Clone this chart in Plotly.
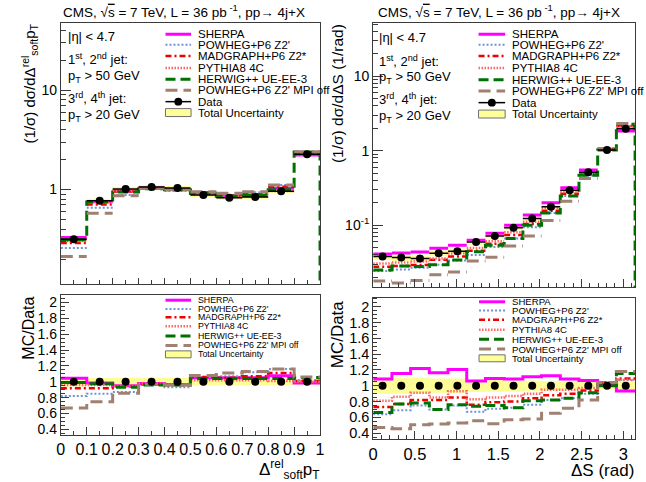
import math
import plotly.graph_objects as go

FIG_W, FIG_H = 646, 482
FONT = "Liberation Sans, Arial, Helvetica, sans-serif"
FRAME = "#3a3a3a"

# ---------------------------------------------------------------
# Delta^rel_soft pT : 10 bins on [0, 1]
# ---------------------------------------------------------------
soft_edges = [0.0, 0.1, 0.2, 0.3, 0.4, 0.5, 0.6, 0.7, 0.8, 0.9, 1.0]
soft_data = [0.316, 0.77, 1.016, 1.06, 1.04, 0.88, 0.826, 0.84, 0.96, 2.26]
soft_unc = [0.06, 0.05, 0.05, 0.05, 0.05, 0.05, 0.045, 0.045, 0.04, 0.035]

soft_ratio_sherpa = [1.045, 0.985, 0.95, 0.98, 0.965, 1.05, 1.05, 1.05, 1.075, 0.985]
soft_ratio_powheg = [0.82, 0.85, 0.87, 0.96, 0.93, 1.06, 1.07, 1.12, 1.16, 1.02]
soft_ratio_madgraph = [0.92, 0.92, 0.94, 0.97, 0.96, 1.06, 1.05, 1.07, 1.11, 1.01]
soft_ratio_pythia = [0.96, 0.96, 0.95, 0.98, 0.97, 1.02, 1.02, 1.02, 1.01, 1.0]
soft_ratio_herwig = [0.99, 0.975, 0.93, 0.96, 0.96, 1.04, 1.04, 1.04, 1.04, 1.055]
soft_ratio_mpioff = [0.67, 0.75, 0.855, 0.97, 0.96, 1.08, 1.11, 1.13, 1.16, 1.06]

# ---------------------------------------------------------------
# Delta S : 14 bins on [0, pi]
# ---------------------------------------------------------------
ds_nbins = 14
ds_edges = [math.pi * i / ds_nbins for i in range(ds_nbins + 1)]
ds_data = [0.0378, 0.0366, 0.0356, 0.0419, 0.0446, 0.0593, 0.0713,
           0.092, 0.123, 0.177, 0.293, 0.514, 1.02, 1.96]
ds_unc = [0.10, 0.10, 0.10, 0.09, 0.09, 0.08, 0.075,
          0.07, 0.065, 0.06, 0.055, 0.05, 0.04, 0.05]

ds_ratio_sherpa = [1.084, 1.155, 1.218, 1.163, 1.205, 1.059, 1.09,
                   1.084, 1.113, 1.126, 1.084, 1.067, 1.017, 0.933]
ds_ratio_powheg = [0.64, 0.69, 0.75, 0.70, 0.75, 0.67, 0.71,
                   0.72, 0.76, 0.82, 0.84, 0.90, 1.04, 1.07]
ds_ratio_madgraph = [0.73, 0.77, 0.82, 0.82, 0.85, 0.76, 0.79,
                     0.80, 0.84, 0.88, 0.90, 0.94, 1.04, 1.09]
ds_ratio_pythia = [0.81, 0.86, 0.91, 0.85, 0.93, 0.83, 0.85,
                   0.87, 0.90, 0.95, 0.95, 0.97, 1.04, 1.08]
ds_ratio_herwig = [0.66, 0.77, 0.78, 0.70, 0.76, 0.74, 0.75,
                   0.72, 0.81, 0.82, 0.84, 0.91, 1.0, 1.155]
ds_ratio_mpioff = [0.47, 0.456, 0.506, 0.514, 0.527, 0.556, 0.52,
                   0.57, 0.58, 0.65, 0.715, 0.82, 1.04, 1.18]

model_names = ["SHERPA", "POWHEG+P6 Z2'", "MADGRAPH+P6 Z2*", "PYTHIA8 4C",
               "HERWIG++ UE-EE-3", "POWHEG+P6 Z2' MPI off"]
legend_labels = model_names + ["Data", "Total Uncertainty"]

model_styles = {
    "SHERPA": dict(color="#ff00ff", width=3, dash="solid"),
    "POWHEG+P6 Z2'": dict(color="#6f93d8", width=2, dash="2px,2px"),
    "MADGRAPH+P6 Z2*": dict(color="#ee0000", width=2.5, dash="6px,3px,2px,3px"),
    "PYTHIA8 4C": dict(color="#ff6464", width=2.5, dash="1.5px,1.5px"),
    "HERWIG++ UE-EE-3": dict(color="#007000", width=3, dash="10px,5px"),
    "POWHEG+P6 Z2' MPI off": dict(color="#a08070", width=3, dash="12px,6px"),
}
BAND_FILL = "#ffff9a"
BAND_HATCH = "#e8dc60"

soft_ratios = dict(zip(model_names, [soft_ratio_sherpa, soft_ratio_powheg,
                                     soft_ratio_madgraph, soft_ratio_pythia,
                                     soft_ratio_herwig, soft_ratio_mpioff]))
ds_ratios = dict(zip(model_names, [ds_ratio_sherpa, ds_ratio_powheg,
                                   ds_ratio_madgraph, ds_ratio_pythia,
                                   ds_ratio_herwig, ds_ratio_mpioff]))


def X(p):
    return p / FIG_W


def Y(p):
    return 1 - p / FIG_H


def centers(edges):
    return [(a + b) / 2 for a, b in zip(edges[:-1], edges[1:])]


def step_line(edges, vals, drop=None):
    xs = list(edges)
    ys = list(vals) + [vals[-1]]
    if drop is not None:
        xs.append(edges[-1])
        ys.append(drop)
    return xs, ys


def segments(edges, vals):
    xs, ys = [], []
    for a, b, v in zip(edges[:-1], edges[1:], vals):
        xs += [a, b, None]
        ys += [v, v, None]
    return xs, ys


def boxes(edges, lo, hi):
    xs, ys = [], []
    for a, b, l, h in zip(edges[:-1], edges[1:], lo, hi):
        xs += [a, b, b, a, a, None]
        ys += [l, l, h, h, l, None]
    return xs, ys


fig = go.Figure()


def add_panels(edges, data, unc, ratios, top_ax, rat_ax):
    tx, ty = top_ax
    rx, ry = rat_ax
    mids = centers(edges)
    half = [(b - a) / 2 for a, b in zip(edges[:-1], edges[1:])]

    # --- upper panel: normalised cross section ---
    bx, by = boxes(edges, [d * (1 - u) for d, u in zip(data, unc)],
                   [d * (1 + u) for d, u in zip(data, unc)])
    fig.add_trace(go.Scatter(x=bx, y=by, xaxis=tx, yaxis=ty, mode="lines",
                             fill="toself", fillcolor=BAND_FILL,
                             fillpattern=dict(shape="x", fgcolor=BAND_HATCH,
                                              bgcolor=BAND_FILL, size=4, solidity=0.15),
                             line=dict(width=0), hoverinfo="skip", showlegend=False))
    for name in model_names:
        st = model_styles[name]
        mc = [r * d for r, d in zip(ratios[name], data)]
        if name == "HERWIG++ UE-EE-3":
            xs, ys = step_line(edges, mc, drop=1e-4)
            shape = "hv"
        else:
            xs, ys = segments(edges, mc)
            shape = "linear"
        fig.add_trace(go.Scatter(x=xs, y=ys, xaxis=tx, yaxis=ty, mode="lines",
                                 line=dict(color=st["color"], width=st["width"],
                                           dash=st["dash"], shape=shape),
                                 name=name, showlegend=False))
    fig.add_trace(go.Scatter(x=mids, y=data, xaxis=tx, yaxis=ty, mode="markers",
                             marker=dict(color="black", size=8),
                             error_x=dict(type="data", array=half, color="black",
                                          thickness=1.5, width=0),
                             error_y=dict(type="data", array=[d * u * 0.4 for d, u in zip(data, unc)],
                                          color="black", thickness=1, width=0),
                             name="Data", showlegend=False))

    # --- lower panel: MC / Data ---
    bx, by = boxes(edges, [1 - u for u in unc], [1 + u for u in unc])
    fig.add_trace(go.Scatter(x=bx, y=by, xaxis=rx, yaxis=ry, mode="lines",
                             fill="toself", fillcolor=BAND_FILL,
                             fillpattern=dict(shape="x", fgcolor=BAND_HATCH,
                                              bgcolor=BAND_FILL, size=4, solidity=0.15),
                             line=dict(width=0), hoverinfo="skip", showlegend=False))
    for name in model_names:
        st = model_styles[name]
        xs, ys = step_line(edges, ratios[name])
        fig.add_trace(go.Scatter(x=xs, y=ys, xaxis=rx, yaxis=ry, mode="lines",
                                 line=dict(color=st["color"], width=st["width"],
                                           dash=st["dash"], shape="hv"),
                                 name=name, showlegend=False))
    fig.add_trace(go.Scatter(x=mids, y=[1.0] * len(mids), xaxis=rx, yaxis=ry,
                             mode="markers", marker=dict(color="black", size=8),
                             name="Data", showlegend=False))


add_panels(soft_edges, soft_data, soft_unc, soft_ratios, ("x", "y"), ("x2", "y2"))
add_panels(ds_edges, ds_data, ds_unc, ds_ratios, ("x3", "y3"), ("x4", "y4"))

# ---------------------------------------------------------------
# axes
# ---------------------------------------------------------------
def lin_axis(**kw):
    base = dict(showline=True, linecolor=FRAME, linewidth=1, mirror=True,
                showgrid=False, zeroline=False, ticks="inside", tickcolor=FRAME,
                ticklen=8, tickwidth=1,
                tickfont=dict(family=FONT, size=14, color="black"))
    base.update(kw)
    return base


def log_minor(decades):
    vals = []
    for dec in decades:
        vals += [k * dec for k in range(2, 10)]
    return vals


top_left_y = lin_axis(type="log", range=[-0.953, 1.68], tickvals=[1, 10],
                      ticktext=["1", "10"], ticklen=10,
                      domain=[Y(285.7), Y(21.7)], anchor="x",
                      minor=dict(ticks="inside", ticklen=5, tickcolor=FRAME,
                                 tickvals=log_minor([0.1, 1, 10])))
top_right_y = lin_axis(type="log", range=[-1.83, 1.72], tickvals=[0.1, 1, 10],
                       ticktext=["10<sup>-1</sup>", "1", "10"], ticklen=10,
                       domain=[Y(288.3), Y(21.7)], anchor="x3",
                       minor=dict(ticks="inside", ticklen=5, tickcolor=FRAME,
                                  tickvals=log_minor([0.01, 0.1, 1, 10])))

fig.update_layout(
    width=FIG_W, height=FIG_H, autosize=False,
    margin=dict(l=0, r=0, t=0, b=0),
    paper_bgcolor="white", plot_bgcolor="white",
    showlegend=False,
    xaxis=lin_axis(domain=[X(56.7), X(320)], range=[0, 1], anchor="y",
                   dtick=0.1, ticklen=6, showticklabels=False,
                   minor=dict(ticks="inside", ticklen=4, dtick=0.05, tickcolor=FRAME)),
    yaxis=top_left_y,
    xaxis2=lin_axis(domain=[X(56.7), X(320)], range=[0, 1], anchor="y2",
                    dtick=0.1, ticklen=8,
                    tickfont=dict(family=FONT, size=16, color="black"),
                    minor=dict(ticks="inside", ticklen=4, dtick=0.05, tickcolor=FRAME)),
    yaxis2=lin_axis(domain=[Y(437.3), Y(296.7)], range=[0.334, 2.09], anchor="x2",
                    dtick=0.2, tick0=0, ticklen=8,
                    minor=dict(ticks="inside", ticklen=4, dtick=0.05, tickcolor=FRAME)),
    xaxis3=lin_axis(domain=[X(374), X(640)], range=[0, math.pi], anchor="y3",
                    dtick=0.5, ticklen=8, showticklabels=False,
                    minor=dict(ticks="inside", ticklen=4, dtick=0.1, tickcolor=FRAME)),
    yaxis3=top_right_y,
    xaxis4=lin_axis(domain=[X(374), X(640)], range=[0, math.pi], anchor="y4",
                    dtick=0.5, ticklen=8,
                    tickfont=dict(family=FONT, size=16.5, color="black"),
                    minor=dict(ticks="inside", ticklen=4, dtick=0.1, tickcolor=FRAME)),
    yaxis4=lin_axis(domain=[Y(441.7), Y(299)], range=[0.325, 2.117], anchor="x4",
                    dtick=0.2, tick0=0, ticklen=8,
                    tickfont=dict(family=FONT, size=14.5, color="black"),
                    minor=dict(ticks="inside", ticklen=4, dtick=0.05, tickcolor=FRAME)),
)

# ---------------------------------------------------------------
# text and legends (paper coordinates in pixels of the 646x482 canvas)
# ---------------------------------------------------------------
annotations = []
shapes = []


def text(px, py, s, size, xanchor="left", yanchor="middle", angle=0):
    annotations.append(dict(x=X(px), y=Y(py), xref="paper", yref="paper",
                            text=s, showarrow=False, xanchor=xanchor,
                            yanchor=yanchor, textangle=angle, borderpad=0,
                            font=dict(family=FONT, size=size, color="black")))


title = ("CMS, \u221a<span style='text-decoration:overline'>s</span> = 7 TeV, "
         "L = 36 pb<sup> -1</sup>, pp\u2192 4j+X")
text(182, 10, title, 13.5, xanchor="center")
text(502, 10, title, 13.5, xanchor="center")

# axis titles
text(25, 22, "(1/\u03c3) d\u03c3/d\u0394<sup>rel</sup><sub>soft</sub>p<sub>T</sub>", 15,
     xanchor="center", yanchor="top", angle=-90)
text(338, 22, "(1/\u03c3) d\u03c3/d\u0394S (1/rad)", 15.5,
     xanchor="center", yanchor="top", angle=-90)
text(23, 297, "MC/Data", 16, xanchor="center", yanchor="top", angle=-90)
text(338, 301, "MC/Data", 17, xanchor="center", yanchor="top", angle=-90)
text(320, 472, "\u0394<sup>rel</sup><sub>soft</sub>p<sub>T</sub>", 17, xanchor="right")
text(640, 473, "\u0394S (rad)", 17, xanchor="right")

# selection text
selection = ["|\u03b7| &lt; 4.7",
             "1<sup>st</sup>, 2<sup>nd</sup> jet:",
             "p<sub>T</sub> &gt; 50 GeV",
             "3<sup>rd</sup>, 4<sup>th</sup> jet:",
             "p<sub>T</sub> &gt; 20 GeV"]
for s, yl, yr in zip(selection, [36, 58.5, 76, 97.5, 115], [37, 60, 77, 98.5, 116]):
    text(63, yl, s, 13)
    text(379, yr, s, 13)


def legend(x0, x1, xt, rows, size, labels, box_h):
    for lab, yy in zip(labels, rows):
        if lab in model_styles:
            st = model_styles[lab]
            shapes.append(dict(type="line", xref="paper", yref="paper",
                               x0=X(x0), x1=X(x1), y0=Y(yy), y1=Y(yy),
                               line=dict(color=st["color"], width=st["width"],
                                         dash=st["dash"])))
        elif lab == "Data":
            shapes.append(dict(type="line", xref="paper", yref="paper",
                               x0=X(x0), x1=X(x1), y0=Y(yy), y1=Y(yy),
                               line=dict(color="black", width=1.5)))
            xc = (x0 + x1) / 2
            shapes.append(dict(type="circle", xref="paper", yref="paper",
                               x0=X(xc - 4), x1=X(xc + 4), y0=Y(yy + 4), y1=Y(yy - 4),
                               fillcolor="black", line=dict(color="black", width=0)))
        else:
            shapes.append(dict(type="rect", xref="paper", yref="paper",
                               x0=X(x0), x1=X(x1), y0=Y(yy + box_h), y1=Y(yy - box_h),
                               fillcolor=BAND_FILL, line=dict(color="#707070", width=1)))
        text(xt, yy, lab, size)


legend(163, 189, 195, [33.5, 44, 55.5, 67.5, 79, 90, 101.5, 112.5], 11.5,
       legend_labels, 4)
legend(481, 508, 514, [33.5, 44, 55.5, 67.5, 79.3, 90.7, 102.5, 114], 11.5,
       legend_labels, 4)
ratio_labels = model_names + ["Total Uncertainty"]
legend(163, 189, 195, [301.7, 310.5, 319, 328, 337.7, 347.3, 356.3], 8.8,
       ratio_labels, 3.5)
legend(481.5, 508, 513.5, [303.3, 312, 321.5, 331.5, 341, 351, 360.3], 9.6,
       ratio_labels, 3.5)

fig.update_layout(annotations=annotations, shapes=shapes)
fig.write_html("out.html")
